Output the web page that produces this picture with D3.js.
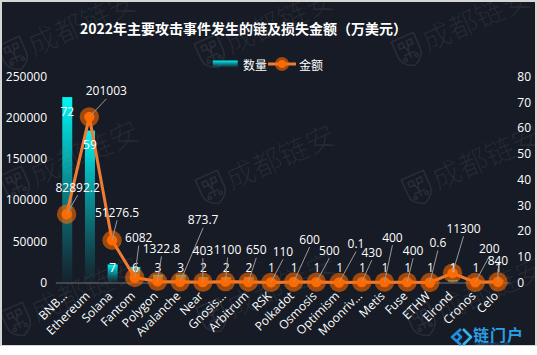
<!DOCTYPE html>
<html><head><meta charset="utf-8">
<script src="https://cdn.jsdelivr.net/npm/d3@7"></script>
<style>html,body{margin:0;padding:0;background:#fff;overflow:hidden}</style>
</head><body><svg id="c" width="537" height="355"></svg>
<script>
// ---- data ----
const categories = ["BNB...","Ethereum","Solana","Fantom","Polygon","Avalanche","Near","Gnosis...","Arbitrum","RSK","Polkadot","Osmosis","Optimism","Moonriv...","Metis","Fuse","ETHW","Elrond","Cronos","Celo"];
const counts  = [72,59,7,6,3,3,2,2,2,1,1,1,1,1,1,1,1,1,1,1];
const amounts = [82892.2,201003,51276.5,6082,1322.8,873.7,403,1100,650,110,600,500,0.1,430,400,400,0.6,11300,200,840];
const leftTicks  = [0,50000,100000,150000,200000,250000];
const rightTicks = [0,10,20,30,40,50,60,70,80];
const titleText = "2022年主要攻击事件发生的链及损失金额（万美元）";
const legendNames = ["数量","金额"];

// ---- layout (label offsets, px) ----
const labelOffsets = [[11,-27],[17,-26],[5,-28],[4,-40],[4,-33],[23,-62],[0,-32],[2,-32],[8,-32],[12,-31],
                      [16,-43],[13,-32],[17,-39],[10,-30],[8,-45],[6,-32],[8,-40],[11,-45],[14,-34],[0,-21]];

const W = 537, H = 355;
const FONT = "'Open Sans','Noto Sans CJK SC',sans-serif";
const CJK = "'Noto Sans CJK SC','Open Sans',sans-serif";
const svg = d3.select("#c");

// background
svg.append("rect").attr("width", W).attr("height", H).attr("fill", "#fff");
svg.append("rect").attr("x",0).attr("y",0).attr("width",537).attr("height",346).attr("fill","#d6d6d6");
svg.append("rect").attr("x",2).attr("y",2).attr("width",533).attr("height",343).attr("fill","#161b25");

const defs = svg.append("defs");
const grad = defs.append("linearGradient").attr("id","barGrad").attr("x1",0).attr("y1",0).attr("x2",0).attr("y2",1);
grad.append("stop").attr("offset","0%").attr("stop-color","#00f7f7").attr("stop-opacity",1);
grad.append("stop").attr("offset","100%").attr("stop-color","#00c8d0").attr("stop-opacity",0.04);
defs.append("clipPath").attr("id","bgclip").append("rect").attr("x",2).attr("y",2).attr("width",533).attr("height",343);

// watermarks
const wmG = svg.append("g").attr("clip-path","url(#bgclip)");
function watermark(x, y){
  const w = wmG.append("g").attr("transform",`translate(${x},${y}) rotate(-24)`)
    .attr("fill","none").attr("stroke","rgba(255,255,255,0.08)").attr("stroke-width",1.6);
  w.append("path").attr("d","M-12,-14 L12,-14 L12,3 Q12,12 0,17 Q-12,12 -12,3 Z");
  w.append("rect").attr("x",-7).attr("y",-9).attr("width",5).attr("height",5);
  w.append("rect").attr("x",2).attr("y",-9).attr("width",5).attr("height",5);
  w.append("path").attr("d","M-2,-4 L0,1 L2,-4 M0,1 L0,9 M-6,4 L6,4");
  w.append("circle").attr("cx",-6).attr("cy",8).attr("r",1.6);
  w.append("circle").attr("cx",6).attr("cy",8).attr("r",1.6);
  w.append("text").attr("x",17).attr("y",10).attr("font-family",CJK).attr("font-weight",300)
    .attr("font-size",29).attr("fill","rgba(255,255,255,0.07)").attr("stroke","none").text("成都链安");
}
[[14,54],[211,52],[408,50],[16,184],[212,188],[418,188],[17,320],[213,316],[422,320]].forEach(p=>watermark(p[0],p[1]));

// scales
const x = d3.scaleBand().domain(categories).range([55.3, 509.3]).padding(0);
const cx = c => x(c) + x.bandwidth()/2;
const yL = d3.scaleLinear().domain([0,250000]).range([282.5,76.5]);
const yR = d3.scaleLinear().domain([0,80]).range([282.5,76.5]);

// axes
const axL = svg.append("g").attr("transform","translate(55,0)")
  .call(d3.axisLeft(yL).tickValues(leftTicks).tickSize(0).tickPadding(8).tickFormat(d3.format("d")));
axL.select(".domain").remove();
axL.selectAll("text").attr("fill","#fff").attr("font-size",12).attr("font-family",FONT);

const axR = svg.append("g").attr("transform","translate(509.3,0)")
  .call(d3.axisRight(yR).tickValues(rightTicks).tickSize(0).tickPadding(8));
axR.select(".domain").remove();
axR.selectAll("text").attr("fill","#fff").attr("font-size",12).attr("font-family",FONT);

const axB = svg.append("g").attr("transform","translate(0,282.5)")
  .call(d3.axisBottom(x).tickSize(0).tickFormat(()=>""));
axB.select(".domain").attr("stroke","#6e7079").attr("stroke-width",1);

svg.append("g").selectAll("text").data(categories).join("text")
  .attr("transform", d => `translate(${cx(d)-2},293.5) rotate(-45)`)
  .attr("text-anchor","end").attr("dominant-baseline","central")
  .attr("fill","#fff").attr("font-size",12).attr("font-family",FONT)
  .text(d => d);

// bars
const barW = 10;
svg.append("g").selectAll("rect").data(counts).join("rect")
  .attr("x",(d,i)=>cx(categories[i]) + 0.6 - barW/2)
  .attr("y",d=>yR(d)).attr("width",barW).attr("height",d=>yR(0)-yR(d))
  .attr("fill","url(#barGrad)");

// line
const pts = amounts.map((v,i)=>[cx(categories[i]), yL(v)]);
svg.append("path").datum(pts).attr("d", d3.line())
  .attr("fill","none").attr("stroke","#f07b32").attr("stroke-width",3).attr("stroke-linejoin","round");
const ptG = svg.append("g");
ptG.selectAll("circle.h").data(pts).join("circle").attr("class","h")
  .attr("cx",d=>d[0]).attr("cy",d=>d[1]).attr("r",9.7).attr("fill","rgba(255,106,0,0.58)");
ptG.selectAll("circle.c").data(pts).join("circle").attr("class","c")
  .attr("cx",d=>d[0]).attr("cy",d=>d[1]).attr("r",5.2).attr("fill","#ff6a00");

// bar labels
svg.append("g").selectAll("text").data(counts).join("text")
  .attr("x",(d,i)=>cx(categories[i]) + 0.6)
  .attr("y",d=>Math.min(yR(d)+14, yR(0)-15.5))
  .attr("text-anchor","middle").attr("dominant-baseline","central")
  .attr("fill","#fff").attr("font-size",12).attr("font-family",FONT)
  .text(d=>d);

// line labels with leader lines
const llG = svg.append("g");
llG.selectAll("line").data(amounts).join("line")
  .attr("x1",(d,i)=>pts[i][0]).attr("y1",(d,i)=>pts[i][1])
  .attr("x2",(d,i)=>pts[i][0]+labelOffsets[i][0]).attr("y2",(d,i)=>pts[i][1]+labelOffsets[i][1]+8)
  .attr("stroke","#9a9a9a").attr("stroke-width",1);
llG.selectAll("text").data(amounts).join("text")
  .attr("x",(d,i)=>pts[i][0]+labelOffsets[i][0]).attr("y",(d,i)=>pts[i][1]+labelOffsets[i][1])
  .attr("text-anchor","middle").attr("dominant-baseline","central")
  .attr("fill","#fff").attr("font-size",12).attr("font-family",FONT)
  .text(d=>String(d));

// legend
const lg = svg.append("g").attr("font-family",CJK).attr("font-size",12).attr("fill","#fff");
lg.append("rect").attr("x",212.7).attr("y",60.5).attr("width",25).attr("height",7).attr("fill","url(#barGrad)");
lg.append("text").attr("x",243).attr("y",64).attr("dominant-baseline","central").text(legendNames[0]);
lg.append("line").attr("x1",268).attr("x2",296).attr("y1",64).attr("y2",64).attr("stroke","#f07b32").attr("stroke-width",3);
lg.append("circle").attr("cx",282).attr("cy",64).attr("r",7).attr("fill","rgba(255,106,0,0.58)");
lg.append("circle").attr("cx",282).attr("cy",64).attr("r",4).attr("fill","#ff6a00");
lg.append("text").attr("x",299).attr("y",64).attr("dominant-baseline","central").text(legendNames[1]);

// title
svg.append("text").attr("x",80).attr("y",27.5).attr("dominant-baseline","central")
  .attr("font-family",CJK).attr("font-weight","bold").attr("font-size",14).attr("fill","#fff")
  .text(titleText);

// bottom-right logo
const logo = svg.append("g");
logo.append("path").attr("d","M461,329 L452,337 L461,345 M457,333 L461,337 L457,341")
  .attr("fill","none").attr("stroke","#1f8fe0").attr("stroke-width",2.6).attr("stroke-linejoin","round");
logo.append("path").attr("d","M463,329 L471,337 L463,345")
  .attr("fill","none").attr("stroke","#35b3f0").attr("stroke-width",2.6).attr("stroke-linejoin","round");
logo.append("text").attr("x",473).attr("y",341).attr("font-family",CJK).attr("font-weight","bold")
  .attr("font-size",16).attr("letter-spacing",1).attr("fill","#2a9fe6").text("链门户");
logo.append("text").attr("x",475).attr("y",345).attr("font-family",FONT)
  .attr("font-size",4).attr("fill","#2a9fe6").attr("opacity",0.7).text("LIANMENHU.COM");
</script>
</body></html>
